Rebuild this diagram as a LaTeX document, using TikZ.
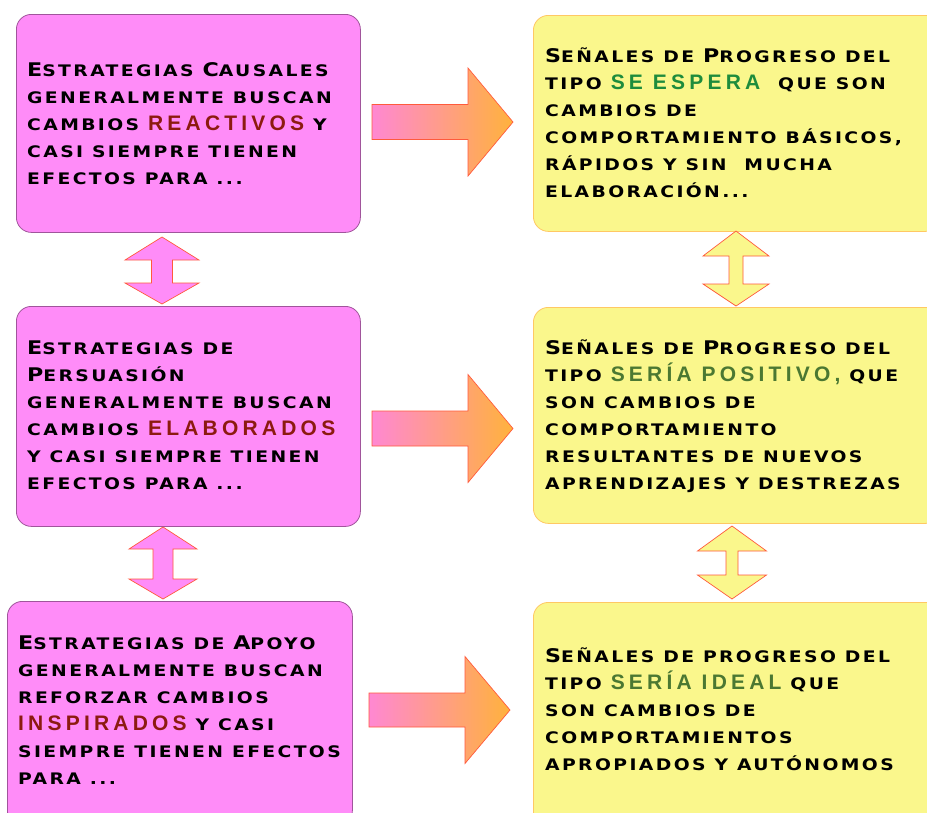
\documentclass[tikz,border=0pt]{standalone}
\usepackage{fontspec}
\usepackage{xcolor}
\newfontfamily\cop{DejaVu Sans}[FakeStretch=1.18,LetterSpace=15]
\newfontfamily\hlf{Liberation Sans}[LetterSpace=20]
\definecolor{pinkfill}{RGB}{255,140,248}
\definecolor{pinkline}{RGB}{160,85,155}
\definecolor{yelfill}{RGB}{250,247,140}
\definecolor{yelline}{RGB}{255,200,100}
\definecolor{arrline}{RGB}{255,90,60}
\definecolor{gradL}{RGB}{255,136,210}
\definecolor{gradR}{RGB}{255,178,60}
\definecolor{hlred}{RGB}{140,26,16}
\definecolor{hlgreenA}{RGB}{30,140,60}
\definecolor{hlgreenB}{RGB}{75,120,50}
\newcommand\Bg[1]{{\fontsize{18.8}{27}\selectfont #1}}
\newcommand\HL[2]{{\hlf\fontsize{21}{27}\selectfont\color{#1}#2}}
\newcommand\txt[1]{\parbox[t]{420pt}{\raggedright\cop\bfseries\fontsize{15.9}{27}\selectfont #1}}
\newcommand\dblarr[9]{% cx, top, hb1, hb2, bottom, headhalf, shafthalf, fill, line
  \filldraw[fill=#8,draw=#9,line width=0.7pt,line join=miter]
   (#1,#2) -- ({#1+#6},#3) -- ({#1+#7},#3) -- ({#1+#7},#4) -- ({#1+#6},#4) -- (#1,#5)
   -- ({#1-#6},#4) -- ({#1-#7},#4) -- ({#1-#7},#3) -- ({#1-#6},#3) -- cycle;}
\newcommand\rarr[6]{% x0, xh, xtip, ytip, shafthalf, headhalf
  \shadedraw[left color=gradL,right color=gradR,draw=arrline,line width=0.7pt]
   (#1,{#4-#5}) -- (#2,{#4-#5}) -- (#2,{#4-#6}) -- (#3,#4) -- (#2,{#4+#6}) -- (#2,{#4+#5}) -- (#1,{#4+#5}) -- cycle;}
\tikzset{
  pinkbox/.style={draw=pinkline,fill=pinkfill,line width=0.8pt,rounded corners=15pt,anchor=north west,inner sep=0pt},
  yelbox/.style={draw=yelline,fill=yelfill,line width=0.8pt,rounded corners=15pt,anchor=north west,inner sep=0pt},
  tx/.style={anchor=base west,inner sep=0pt,text=black}
}
\begin{document}
\begin{tikzpicture}[x=1pt,y=-1pt]
\useasboundingbox (0,0) rectangle (927,812);
\clip (0,0) rectangle (927,812);
\fill[white] (0,0) rectangle (927,812);
% boxes
\node[pinkbox,minimum width=344pt,minimum height=218pt] (L1) at (16,14) {};
\node[pinkbox,minimum width=344pt,minimum height=220pt] (L2) at (16,306) {};
\node[pinkbox,minimum width=345pt,minimum height=224pt] (L3) at (7,601) {};
\node[yelbox,minimum width=407pt,minimum height=216pt] (R1) at (533,15) {};
\node[yelbox,minimum width=407pt,minimum height=216pt] (R2) at (533,307) {};
\node[yelbox,minimum width=407pt,minimum height=224pt] (R3) at (533,602) {};
% texts
\node[tx] (tL1) at (27,76) {\txt{\Bg{E}STRATEGIAS \Bg{C}AUSALES\\
GENERALMENTE BUSCAN\\
CAMBIOS \HL{hlred}{REACTIVOS} Y\\
CASI SIEMPRE TIENEN\\
EFECTOS PARA ...}};
\node[tx] (tL2) at (27,354) {\txt{\Bg{E}STRATEGIAS DE\\
\Bg{P}ERSUASIÓN\\
GENERALMENTE BUSCAN\\
CAMBIOS \HL{hlred}{ELABORADOS}\\
Y CASI SIEMPRE TIENEN\\
EFECTOS PARA ...}};
\node[tx] (tL3) at (18,649) {\txt{\Bg{E}STRATEGIAS DE \Bg{A}POYO\\
GENERALMENTE BUSCAN\\
REFORZAR CAMBIOS\\
\HL{hlred}{INSPIRADOS} Y CASI\\
SIEMPRE TIENEN EFECTOS\\
PARA ...}};
\node[tx] (tR1) at (545,62) {\txt{\Bg{S}EÑALES DE \Bg{P}ROGRESO DEL\\
TIPO \HL{hlgreenA}{SE ESPERA}\ \ QUE SON\\
CAMBIOS DE\\
COMPORTAMIENTO BÁSICOS,\\
RÁPIDOS Y SIN\ \ MUCHA\\
ELABORACIÓN...}};
\node[tx] (tR2) at (545,354) {\txt{\Bg{S}EÑALES DE \Bg{P}ROGRESO DEL\\
TIPO \HL{hlgreenB}{SERÍA POSITIVO,} QUE\\
SON CAMBIOS DE\\
COMPORTAMIENTO\\
RESULTANTES DE NUEVOS\\
APRENDIZAJES Y DESTREZAS}};
\node[tx] (tR3) at (545,662) {\txt{\Bg{S}EÑALES DE PROGRESO DEL\\
TIPO \HL{hlgreenB}{SERÍA IDEAL} QUE\\
SON CAMBIOS DE\\
COMPORTAMIENTOS\\
APROPIADOS Y AUTÓNOMOS}};
% right block arrows
\rarr{372}{468}{513}{122}{17.5}{54}
\rarr{372}{468}{513}{428.5}{17.5}{54}
\rarr{369}{465}{510}{710}{17}{53.5}
% vertical double arrows
\dblarr{162}{237}{260}{283}{304}{37}{10.5}{pinkfill}{arrline}
\dblarr{163}{527}{549}{579}{599}{34}{10}{pinkfill}{arrline}
\dblarr{736}{231}{256}{284}{306}{33}{7}{yelfill}{arrline}
\dblarr{732}{526}{551}{575}{599}{34.5}{6}{yelfill}{arrline}
\end{tikzpicture}
\end{document}
